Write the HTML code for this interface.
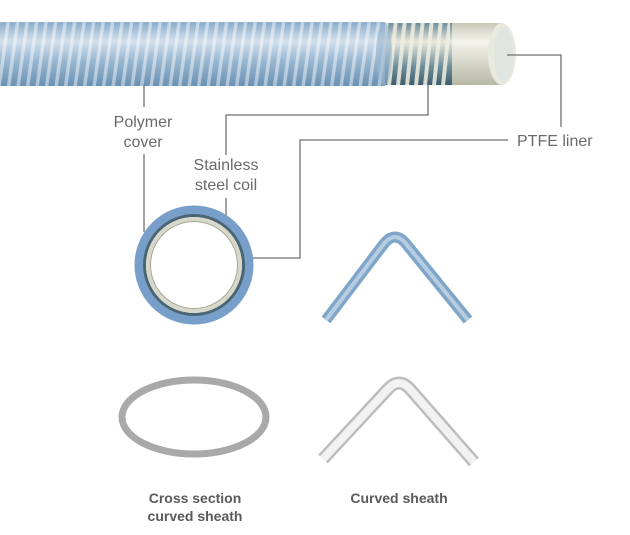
<!DOCTYPE html>
<html><head><style>
body{margin:0;background:#fff;}
svg text{font-family:"Liberation Sans",sans-serif;fill:#6a6a6a;}
</style></head><body>
<svg width="630" height="530" viewBox="0 0 630 530" xmlns="http://www.w3.org/2000/svg">
<defs>
<linearGradient id="blue" x1="0" y1="0" x2="0" y2="1">
<stop offset="0" stop-color="#8aaccb"/><stop offset="0.3" stop-color="#d2e0ec"/><stop offset="0.6" stop-color="#9ab8d1"/><stop offset="1" stop-color="#6a91b3"/>
</linearGradient>
<linearGradient id="coil" x1="0" y1="0" x2="0" y2="1">
<stop offset="0" stop-color="#6c8a98"/><stop offset="0.3" stop-color="#e8e8dc"/><stop offset="0.7" stop-color="#6f8f9c"/><stop offset="1" stop-color="#3d5d6c"/>
</linearGradient>
<linearGradient id="liner" x1="0" y1="0" x2="0" y2="1">
<stop offset="0" stop-color="#c8c8b8"/><stop offset="0.3" stop-color="#f4f4ee"/><stop offset="1" stop-color="#b8b8a6"/>
</linearGradient>
<pattern id="stripes" width="9.5" height="70" patternUnits="userSpaceOnUse" patternTransform="skewX(-8)">
<rect x="0" y="0" width="3.5" height="70" fill="#ffffff" opacity="0.45"/>
</pattern>
<pattern id="cstripes" width="9" height="70" patternUnits="userSpaceOnUse" patternTransform="skewX(-6)">
<rect x="0" y="0" width="4" height="70" fill="#f0efe2" opacity="0.85"/>
</pattern>
</defs>
<rect x="450" y="23" width="52" height="62" fill="url(#liner)"/>
<ellipse cx="502" cy="54" rx="14" ry="31" fill="#e9e9e0"/>
<ellipse cx="504" cy="54" rx="10" ry="27" fill="#dfe5e0"/>
<rect x="372" y="23" width="80" height="62" fill="url(#coil)"/>
<rect x="376" y="23" width="74" height="62" fill="url(#cstripes)"/>
<rect x="0" y="22" width="385" height="64" fill="url(#blue)"/>
<rect x="0" y="22" width="385" height="64" fill="url(#stripes)"/>
<ellipse cx="384" cy="54" rx="8" ry="32" fill="#9ab6cf" opacity="0.6"/>
<g stroke="#707070" stroke-width="1.3" fill="none">
<path d="M144 85V107M144 154V232"/>
<path d="M428 85V115H226V155M226 198V222"/>
<path d="M507 55H561V127"/>
<path d="M508 140H300V258H244"/>
</g>
<text x="143" y="127" font-size="16" text-anchor="middle">Polymer</text>
<text x="143" y="147" font-size="16" text-anchor="middle">cover</text>
<text x="226" y="170" font-size="16" text-anchor="middle">Stainless</text>
<text x="226" y="190" font-size="16" text-anchor="middle">steel coil</text>
<text x="517" y="146" font-size="16">PTFE liner</text>
<circle cx="194" cy="265" r="55" fill="none" stroke="#779fca" stroke-width="9"/>
<circle cx="194" cy="265" r="49.5" fill="none" stroke="#4a6573" stroke-width="3"/>
<circle cx="194" cy="265" r="46" fill="none" stroke="#d8d8ca" stroke-width="4"/>
<circle cx="194" cy="265" r="43.5" fill="none" stroke="#a4a494" stroke-width="1"/>
<path d="M326 320 L383 245 Q395 229 407 245 L468 320" fill="none" stroke="#7fa6c8" stroke-width="11" stroke-linejoin="round"/>
<path d="M326 320 L383 245 Q395 229 407 245 L468 320" fill="none" stroke="#b6cde1" stroke-width="4" stroke-linejoin="round"/>
<ellipse cx="194" cy="417" rx="72" ry="37" fill="none" stroke="#a9a9a9" stroke-width="7"/>
<path d="M323 459 L388 389 Q399 377 410 389 L474 462" fill="none" stroke="#bdbdbd" stroke-width="13" stroke-linejoin="round"/>
<path d="M323 459 L388 389 Q399 377 410 389 L474 462" fill="none" stroke="#f2f2f2" stroke-width="8" stroke-linejoin="round"/>
<text x="195" y="503" font-size="14" font-weight="bold" text-anchor="middle" style="fill:#5a5a5a">Cross section</text>
<text x="195" y="521" font-size="14" font-weight="bold" text-anchor="middle" style="fill:#5a5a5a">curved sheath</text>
<text x="399" y="503" font-size="14" font-weight="bold" text-anchor="middle" style="fill:#5a5a5a">Curved sheath</text>
</svg>
</body></html>
